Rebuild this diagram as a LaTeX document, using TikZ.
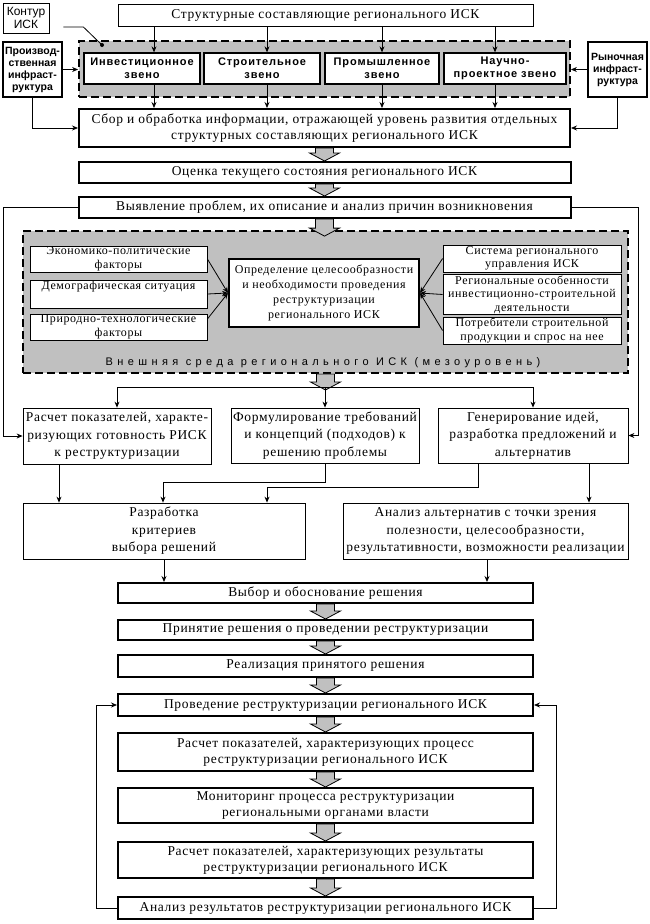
\documentclass[tikz,border=0pt]{standalone}
\usepackage{fontspec}
\setmainfont{Liberation Serif}[LetterSpace=5]
\newfontfamily\plainsans{Liberation Sans}
\newfontfamily\boldsans{Liberation Sans}[LetterSpace=8]
\newfontfamily\widesans{Liberation Sans}[LetterSpace=40]
\usepackage{tikz}
\usetikzlibrary{arrows.meta,positioning,calc}
\definecolor{ISKgray}{RGB}{192,192,192}
\newcommand{\mainfs}{\fontsize{13.5}{16}\selectfont}
\newcommand{\midfs}{\fontsize{13.5}{17.5}\selectfont}
\newcommand{\smallfs}{\fontsize{12}{13.5}\selectfont}
% gray block arrow from #1 down to tip #2
\newcommand{\garrow}[2]{%
  \draw[garrow] let \p1=(#1), \p2=(#2) in
    (\x1-9pt,\y1) -- (\x1+9pt,\y1) -- (\x1+9pt,\y2+8pt) -- (\x1+15pt,\y2+8pt)
    -- (\x1,\y2) -- (\x1-15pt,\y2+8pt) -- (\x1-9pt,\y2+8pt) -- cycle;}
\tikzset{
  box/.style={rectangle, draw, fill=white, line width=0.8pt, inner sep=1pt,
              align=center, font=\mainfs},
  bbox/.style={box, line width=2pt},
  factor/.style={box, font=\smallfs},
  zveno/.style={box, line width=1.3pt, minimum height=31pt,
                font=\boldsans\bfseries\fontsize{11}{13}\selectfont},
  infra/.style={box, line width=2.5pt, minimum width=59pt, minimum height=55pt,
                inner sep=0pt, font=\plainsans\bfseries\fontsize{10.5}{12}\selectfont},
  contour/.style={rectangle, draw, fill=ISKgray, line width=1.8pt,
                  dash pattern=on 8pt off 4pt},
  arr/.style={-{Stealth[length=6pt,width=5pt]}, line width=0.8pt},
  garrow/.style={draw, fill=ISKgray, line width=0.8pt, line join=miter},
}
\begin{document}
\begin{tikzpicture}[x=1pt, y=-1pt]
    \useasboundingbox (0,0) rectangle (650,924);

    % structural components of the regional ISK
    \node[box, minimum width=415pt, minimum height=22pt] (title) at (325.5,15)
          {Структурные составляющие регионального ИСК};
    \node[box, font=\plainsans\fontsize{12}{13}\selectfont,
          minimum width=46pt, minimum height=30pt] (kontur) at (26,18) {Контур\\ИСК};
    \node[contour, minimum width=491pt, minimum height=56pt] (isk) at (324.5,69) {};
    \node[zveno, minimum width=116pt] (invest) at (142,68.5) {Инвестиционное\\звено};
    \node[zveno, minimum width=116pt] (stroit) at (262,68.5) {Строительное\\звено};
    \node[zveno, minimum width=114pt] (prom) at (382,68.5) {Промышленное\\звено};
    \node[zveno, minimum width=122pt] (nauch) at (505,68.5) {Научно-\\проектное звено};
    \node[infra] (proizv) at (32.5,69.5) {Производ-\\ственная\\инфраст-\\руктура};
    \node[infra] (rynok) at (617.5,69.5) {Рыночная\\инфраст-\\руктура};

    \node[bbox, minimum width=491pt, minimum height=38pt] (sbor) at (324.5,128)
          {Сбор и обработка информации, отражающей уровень развития отдельных\\
           структурных составляющих регионального ИСК};
    \node[bbox, minimum width=492pt, minimum height=21pt, below=13pt of sbor] (ocenka)
          {Оценка текущего состояния регионального ИСК};
    \node[bbox, minimum width=492pt, minimum height=21pt, below=12pt of ocenka] (vyyav)
          {Выявление проблем, их описание и анализ причин возникновения};

    % external environment (meso level)
    \node[contour, minimum width=605pt, minimum height=142pt] (sreda) at (325.5,302) {};
    \node[factor, minimum width=177pt, minimum height=26pt] (ek) at (118.5,259)
          {Экономико-политические\\факторы};
    \node[factor, minimum width=177pt, minimum height=26pt] (dem) at (118.5,294)
          {Демографическая ситуация\\\strut};
    \node[factor, minimum width=177pt, minimum height=26pt] (prir) at (118.5,327)
          {Природно-технологические\\факторы};
    \node[bbox, font=\fontsize{12}{15}\selectfont, minimum width=190pt,
          minimum height=68pt] (opr) at (324,293)
          {Определение целесообразности\\и необходимости проведения\\
           реструктуризации\\регионального ИСК};
    \node[factor, minimum width=178pt, minimum height=27pt] (sys) at (532,258.5)
          {Система регионального\\управления ИСК};
    \node[factor, minimum width=178pt, minimum height=39pt] (reg) at (532,294.5)
          {Региональные особенности\\инвестиционно-строительной\\деятельности};
    \node[factor, minimum width=178pt, minimum height=27pt] (potr) at (532,330.5)
          {Потребители строительной\\продукции и спрос на нее};
    \node[font=\widesans\fontsize{11}{12}\selectfont] (sredalbl) at (323,363)
          {Внешняя среда регионального ИСК (мезоуровень)};

    % readiness, requirements, ideas
    \coordinate (split) at (325,387);
    \node[box, font=\midfs, minimum width=188pt, minimum height=56pt] (raschet) at (117,436)
          {Расчет показателей, характе-\\ризующих готовность РИСК\\к реструктуризации};
    \node[box, font=\midfs, minimum width=188pt, minimum height=55pt] (form) at (325,435.5)
          {Формулирование требований\\и концепций (подходов) к\\решению проблемы};
    \node[box, font=\midfs, minimum width=190pt, minimum height=55pt] (gen) at (533,435.5)
          {Генерирование идей,\\разработка предложений и\\альтернатив};
    \node[box, font=\midfs, minimum width=282pt, minimum height=56pt] (razr) at (164,531)
          {Разработка\\критериев\\выбора решений};
    \node[box, font=\midfs, minimum width=285pt, minimum height=56pt] (analt) at (485.5,531)
          {Анализ альтернатив с точки зрения\\полезности, целесообразности,\\
           результативности, возможности реализации};

    % decision and restructuring chain
    \node[bbox, minimum width=415pt, minimum height=20pt] (vybor) at (325.5,593)
          {Выбор и обоснование решения};
    \node[bbox, minimum width=415pt, minimum height=20pt, below=15pt of vybor] (prin)
          {Принятие решения о проведении реструктуризации};
    \node[bbox, minimum width=415pt, minimum height=22pt, below=13pt of prin] (real)
          {Реализация принятого решения};
    \node[bbox, minimum width=415pt, minimum height=22pt, below=15pt of real] (prov)
          {Проведение реструктуризации регионального ИСК};
    \node[bbox, minimum width=415pt, minimum height=38pt, below=15pt of prov] (rpr)
          {Расчет показателей, характеризующих процесс\\реструктуризации регионального ИСК};
    \node[bbox, minimum width=415pt, minimum height=35pt, below=15pt of rpr] (mon)
          {Мониторинг процесса реструктуризации\\региональными органами власти};
    \node[bbox, minimum width=415pt, minimum height=36pt, below=17pt of mon] (rres)
          {Расчет показателей, характеризующих результаты\\реструктуризации регионального ИСК};
    \node[bbox, minimum width=415pt, minimum height=22pt, below=17pt of rres] (anres)
          {Анализ результатов реструктуризации регионального ИСК};

    % contour pointer
    \coordinate (kdot) at (102,45);
    \draw[line width=0.8pt] ($(kontur.east)+(14,9)$) -- ++(20,0) -- (kdot);
    \fill (kdot) circle (2pt);

    % links of the structural components
    \foreach \z/\dx in {invest/12,stroit/5,prom/0,nauch/-10}{
      \coordinate (c\z) at ([xshift=\dx pt]\z.north);
      \draw[arr] (title.south -| c\z) -- (c\z);
      \draw[arr] (c\z |- \z.south) -- (c\z |- sbor.north);
    }
    \draw[arr] (proizv.east) -- (proizv.east -| isk.west);
    \draw[arr] (rynok.west) -- (rynok.west -| isk.east);
    \draw[arr] (proizv.south) |- (sbor.west);
    \draw[arr] (rynok.south) |- (sbor.east);

    % block arrows, upper part
    \garrow{sbor.south}{ocenka.north}
    \garrow{ocenka.south}{vyyav.north}
    \garrow{vyyav.south}{$(sreda.north)+(0,6)$}

    % factors
    \draw[arr] (ek.east) -- (opr.west);
    \draw[arr] (dem.east) -- (opr.west);
    \draw[arr] ([yshift=8pt]prir.east) -- (opr.west);
    \draw[arr] (sys.west) -- (opr.east);
    \draw[arr] (reg.west) -- (opr.east);
    \draw[arr] (potr.west) -- (opr.east);

    % split below the environment
    \garrow{sreda.south}{$(split)+(0,3)$}
    \draw[arr] (split) -| (raschet.north);
    \draw[arr] (split) -| (gen.north);
    \draw[arr] (split) -- (form.north);

    % side feeds from problem identification
    \coordinate (lft) at (3,0);
    \coordinate (rgt) at (638,0);
    \draw[arr] (vyyav.west) -- (vyyav.west -| lft) |- (raschet.west);
    \draw[arr] (vyyav.east) -- (vyyav.east -| rgt) |- (gen.east);

    % towards criteria and alternatives
    \coordinate (rs) at ([xshift=-58pt]raschet.south);
    \draw[arr] (rs) -- (rs |- razr.north);
    \draw[arr] (form.south) -- ++(0,19) -| ([xshift=-1pt]razr.north);
    \draw[arr] ([xshift=-55pt]gen.south) -- ++(0,24) -| ([xshift=103pt]razr.north);
    \coordinate (ga) at ([xshift=56pt]gen.south);
    \draw[arr] (ga) -- (ga |- analt.north);
    \draw[arr] (razr.south) -- (razr.south |- vybor.north);
    \coordinate (aa) at ([xshift=1.5pt]analt.south);
    \draw[arr] (aa) -- (aa |- vybor.north);

    % block arrows, lower chain
    \garrow{vybor.south}{prin.north}
    \garrow{prin.south}{real.north}
    \garrow{real.south}{prov.north}
    \garrow{prov.south}{rpr.north}
    \garrow{rpr.south}{mon.north}
    \garrow{mon.south}{rres.north}
    \garrow{rres.south}{anres.north}

    % feedback loops
    \coordinate (blft) at (96,0);
    \coordinate (brgt) at (556,0);
    \draw[arr] (anres.west) -- (anres.west -| blft) |- (prov.west);
    \draw[arr] (anres.east) -- (anres.east -| brgt) |- (prov.east);
\end{tikzpicture}
\end{document}
